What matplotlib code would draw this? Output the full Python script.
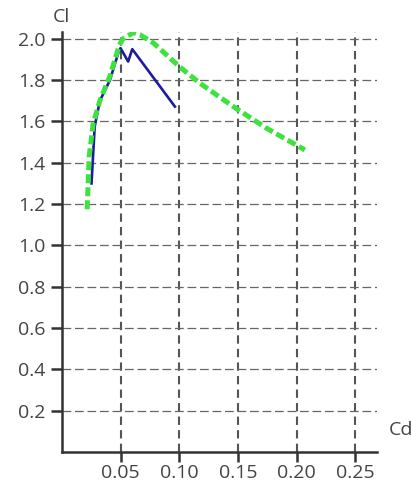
import matplotlib.pyplot as plt

# Cd / Cl polar curves
blue_cd = [0.0253, 0.0280, 0.0324, 0.0410, 0.0480, 0.0500, 0.0565, 0.0600, 0.0963]
blue_cl = [1.30, 1.575, 1.70, 1.80, 1.93, 1.955, 1.89, 1.95, 1.672]

green_cd = [0.0216, 0.0233, 0.0267, 0.0324, 0.0410, 0.0490, 0.0520, 0.0610,
            0.0665, 0.0780, 0.1000, 0.1176, 0.1460, 0.1744, 0.2070]
green_cl = [1.175, 1.43, 1.59, 1.70, 1.82, 1.97, 2.00, 2.03,
            2.02, 1.98, 1.866, 1.785, 1.672, 1.567, 1.462]

x_ticks = [0.05, 0.10, 0.15, 0.20, 0.25]
y_ticks = [0.2, 0.4, 0.6, 0.8, 1.0, 1.2, 1.4, 1.6, 1.8, 2.0]

plt.rcParams['font.family'] = ['Open Sans', 'DejaVu Sans']

fig = plt.figure(figsize=(4.12, 4.86), dpi=100)
ax = fig.add_axes([0.150, 0.070, 0.764, 0.865])

ax.plot(blue_cd, blue_cl, color='#1c1c9c', lw=1.9, zorder=3)
ax.plot(green_cd, green_cl, color='#3ee23e', lw=3.6,
        linestyle=(0, (1.8, 0.8)), zorder=4)

ax.set_xlim(0, 0.268)
ax.set_ylim(0, 2.035)
ax.set_xticks(x_ticks)
ax.set_xticklabels([f"{v:.2f}" for v in x_ticks])
ax.set_yticks(y_ticks)
ax.set_yticklabels([f"{v:.1f}" for v in y_ticks])

ax.xaxis.grid(True, color='#555555', lw=1.5, linestyle=(0, (4, 2.5)))
ax.yaxis.grid(True, color='#666666', lw=0.9, linestyle=(0, (7, 3)))
ax.set_axisbelow(True)

for side in ['top', 'right']:
    ax.spines[side].set_visible(False)
for side in ['left', 'bottom']:
    ax.spines[side].set_linewidth(1.8)
    ax.spines[side].set_color('#333333')

ax.tick_params(axis='y', direction='out', length=8, width=1.8, color='#333333',
               labelsize=14, labelcolor='#444444', pad=4)
ax.tick_params(axis='x', direction='out', length=7, width=1.8, color='#333333',
               labelsize=14, labelcolor='#444444', pad=2)

ax.text(0, 2.06, "Cl", fontsize=14, color='#444444', ha='center', va='bottom')
ax.text(0.278, 0.107, "Cd", fontsize=14, color='#444444', ha='left', va='center',
        clip_on=False)

fig.savefig("out.png", dpi=100)
